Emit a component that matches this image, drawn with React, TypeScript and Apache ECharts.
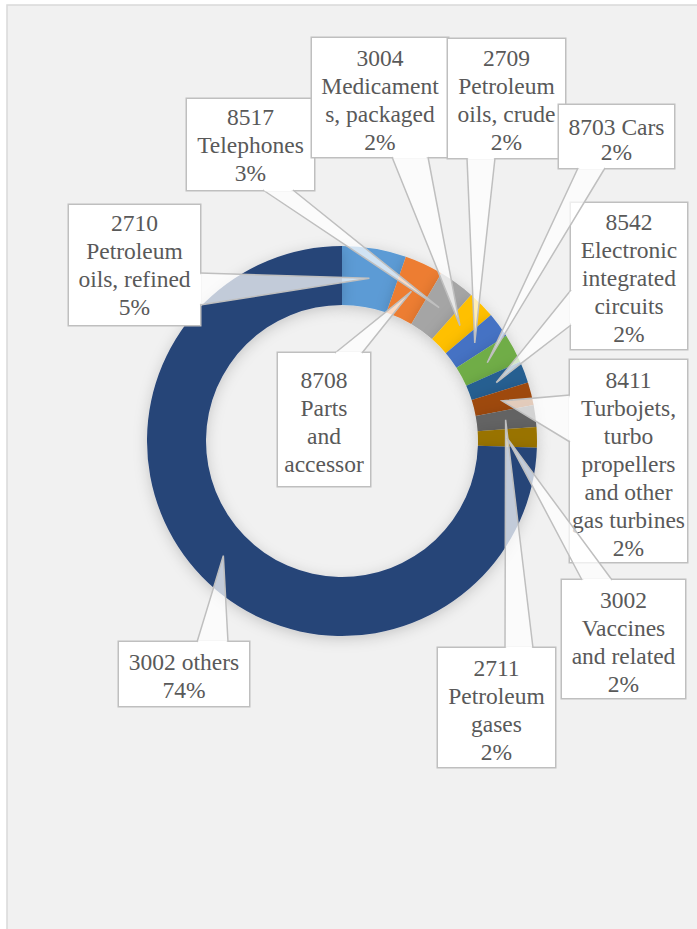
import React, { useEffect, useRef } from "react";
import * as echarts from "echarts";

// ---- data ----
const categories = [
  "2710 Petroleum oils, refined",
  "8708 Parts and accessories",
  "8517 Telephones",
  "3004 Medicaments, packaged",
  "2709 Petroleum oils, crude",
  "8703 Cars",
  "8542 Electronic integrated circuits",
  "8411 Turbojets, turbo propellers and other gas turbines",
  "2711 Petroleum gases",
  "3002 Vaccines and related",
  "3002 others",
];
const shares = [5.3, 3.2, 3.0, 2.3, 2.1, 2.4, 1.8, 1.9, 1.8, 1.7, 74.3];
const labelTexts = [
  ["2710", "Petroleum", "oils, refined"],
  ["8708", "Parts", "and", "accessor"],
  ["8517", "Telephones"],
  ["3004", "Medicament", "s, packaged"],
  ["2709", "Petroleum", "oils, crude"],
  ["8703 Cars"],
  ["8542", "Electronic", "integrated", "circuits"],
  ["8411", "Turbojets,", "turbo", "propellers", "and other", "gas turbines"],
  ["2711", "Petroleum", "gases"],
  ["3002", "Vaccines", "and related"],
  ["3002 others"],
];
const showPercent = [true, false, true, true, true, true, true, true, true, true, true];

// ---- styles / layout ----
const colors = [
  "#5B9BD5", "#ED7D31", "#A5A5A5", "#FFC000", "#4472C4", "#70AD47",
  "#255E91", "#9E480E", "#636363", "#997300", "#264478",
];
const CX = 342;
const CY = 441;
const R_IN = 136;
const R_OUT = 195;
const R_APEX = 165;
const LH = 28;

type Box = { x: number; y: number; w: number; pt: number; pb: number; lh?: number; side: string; b0: number; b1: number };
const boxes: Box[] = [
  { x: 69, y: 205, w: 131, pt: 4, pb: 4, side: "right", b0: 68, b1: 100 },
  { x: 278, y: 353, w: 92, pt: 13, pb: 8, side: "top", b0: 57, b1: 84 },
  { x: 187, y: 99, w: 127, pt: 4, pb: 3, side: "bottom", b0: 76, b1: 106 },
  { x: 312, y: 38, w: 136, pt: 6, pb: 1, side: "bottom", b0: 80, b1: 116 },
  { x: 448, y: 39, w: 117, pt: 5, pb: 2, side: "bottom", b0: 19, b1: 47 },
  { x: 559, y: 105, w: 115, pt: 9, pb: 4, lh: 25, side: "bottom", b0: 19, b1: 46 },
  { x: 571, y: 203, w: 116, pt: 5, pb: 1, side: "left", b0: 87, b1: 122 },
  { x: 570, y: 360, w: 117, pt: 6, pb: 0, side: "left", b0: 35, b1: 82 },
  { x: 438, y: 648, w: 117, pt: 6, pb: 1, side: "top", b0: 67, b1: 95 },
  { x: 562, y: 580, w: 123, pt: 6, pb: 0, side: "top", b0: 20, b1: 50 },
  { x: 119, y: 642, w: 130, pt: 6, pb: 2, side: "top", b0: 78, b1: 109 },
];

function boxHeight(i: number) {
  const b = boxes[i];
  const n = labelTexts[i].length + (showPercent[i] ? 1 : 0);
  return b.pt + b.pb + n * (b.lh || LH);
}

function basePoints(i: number): number[][] {
  const b = boxes[i];
  const h = boxHeight(i);
  if (b.side === "right") return [[b.x + b.w, b.y + b.b0], [b.x + b.w, b.y + b.b1]];
  if (b.side === "left") return [[b.x, b.y + b.b0], [b.x, b.y + b.b1]];
  if (b.side === "top") return [[b.x + b.b0, b.y], [b.x + b.b1, b.y]];
  return [[b.x + b.b0, b.y + h], [b.x + b.b1, b.y + h]];
}

export default function App() {
  const ref = useRef<HTMLDivElement>(null);
  useEffect(() => {
    if (!ref.current) return;
    const chart = echarts.init(ref.current, undefined, { renderer: "svg" });
    const total = shares.reduce((a, b) => a + b, 0);
    let cum = 0;
    const wedges: any[] = [];
    shares.forEach((v, i) => {
      const mid = ((cum + v / 2) / total) * Math.PI * 2;
      cum += v;
      const apex = [CX + R_APEX * Math.sin(mid), CY - R_APEX * Math.cos(mid)];
      const [p0, p1] = basePoints(i);
      wedges.push({
        type: "polygon",
        z: 10,
        silent: true,
        shape: { points: [p0, apex, p1] },
        style: { fill: "rgba(255,255,255,0.72)", stroke: "none" },
      });
      wedges.push({
        type: "polyline",
        z: 11,
        silent: true,
        shape: { points: [p0, apex, p1] },
        style: { stroke: "#bfbfbf", lineWidth: 1.5, fill: "none" },
      });
      wedges.push({
        type: "line",
        z: 11,
        silent: true,
        shape: { x1: p0[0] + (p1[0] - p0[0]) * 0.05, y1: p0[1] + (p1[1] - p0[1]) * 0.05, x2: p1[0] - (p1[0] - p0[0]) * 0.05, y2: p1[1] - (p1[1] - p0[1]) * 0.05 },
        style: { stroke: "#ffffff", lineWidth: 2.5 },
      });
    });

    const data = categories.map((name, i) => ({
      name,
      value: shares[i],
      itemStyle: { color: colors[i] },
      label: {
        width: boxes[i].w - 4,
        padding: [boxes[i].pt, 2, boxes[i].pb, 2],
        lineHeight: boxes[i].lh || LH,
      },
    }));

    chart.setOption({
      animation: false,
      backgroundColor: "#ffffff",
      graphic: [
        {
          type: "rect",
          z: -1,
          silent: true,
          shape: { x: 7, y: 5, width: 700, height: 940 },
          style: { fill: "#f1f1f1", stroke: "#d9d9d9", lineWidth: 1.5 },
        },
        ...wedges,
      ],
      series: [
        {
          type: "pie",
          center: [CX, CY],
          radius: [R_IN, R_OUT],
          startAngle: 90,
          clockwise: true,
          avoidLabelOverlap: false,
          silent: true,
          emphasis: { disabled: true },
          itemStyle: {
            borderWidth: 0,
            shadowBlur: 14,
            shadowColor: "rgba(0,0,0,0.18)",
            shadowOffsetY: 3,
          },
          labelLine: { show: false },
          label: {
            show: true,
            position: "outside",
            overflow: "none",
            align: "center",
            color: "#595959",
            fontFamily: "Liberation Serif",
            fontSize: 23.5,
            backgroundColor: "#ffffff",
            borderColor: "#bfbfbf",
            borderWidth: 1.5,
            formatter: (p: any) =>
              labelTexts[p.dataIndex].join("\n") +
              (showPercent[p.dataIndex] ? "\n" + Math.round(p.percent) + "%" : ""),
          },
          labelLayout: (params: any) => {
            const b = boxes[params.dataIndex];
            return { x: b.x + b.w / 2, y: b.y, align: "center", verticalAlign: "top" };
          },
          data,
        },
      ],
    });
    return () => chart.dispose();
  }, []);
  return (
    <div
      ref={ref}
      style={{ position: "absolute", left: 0, top: 0, width: 697, height: 929 }}
    />
  );
}
